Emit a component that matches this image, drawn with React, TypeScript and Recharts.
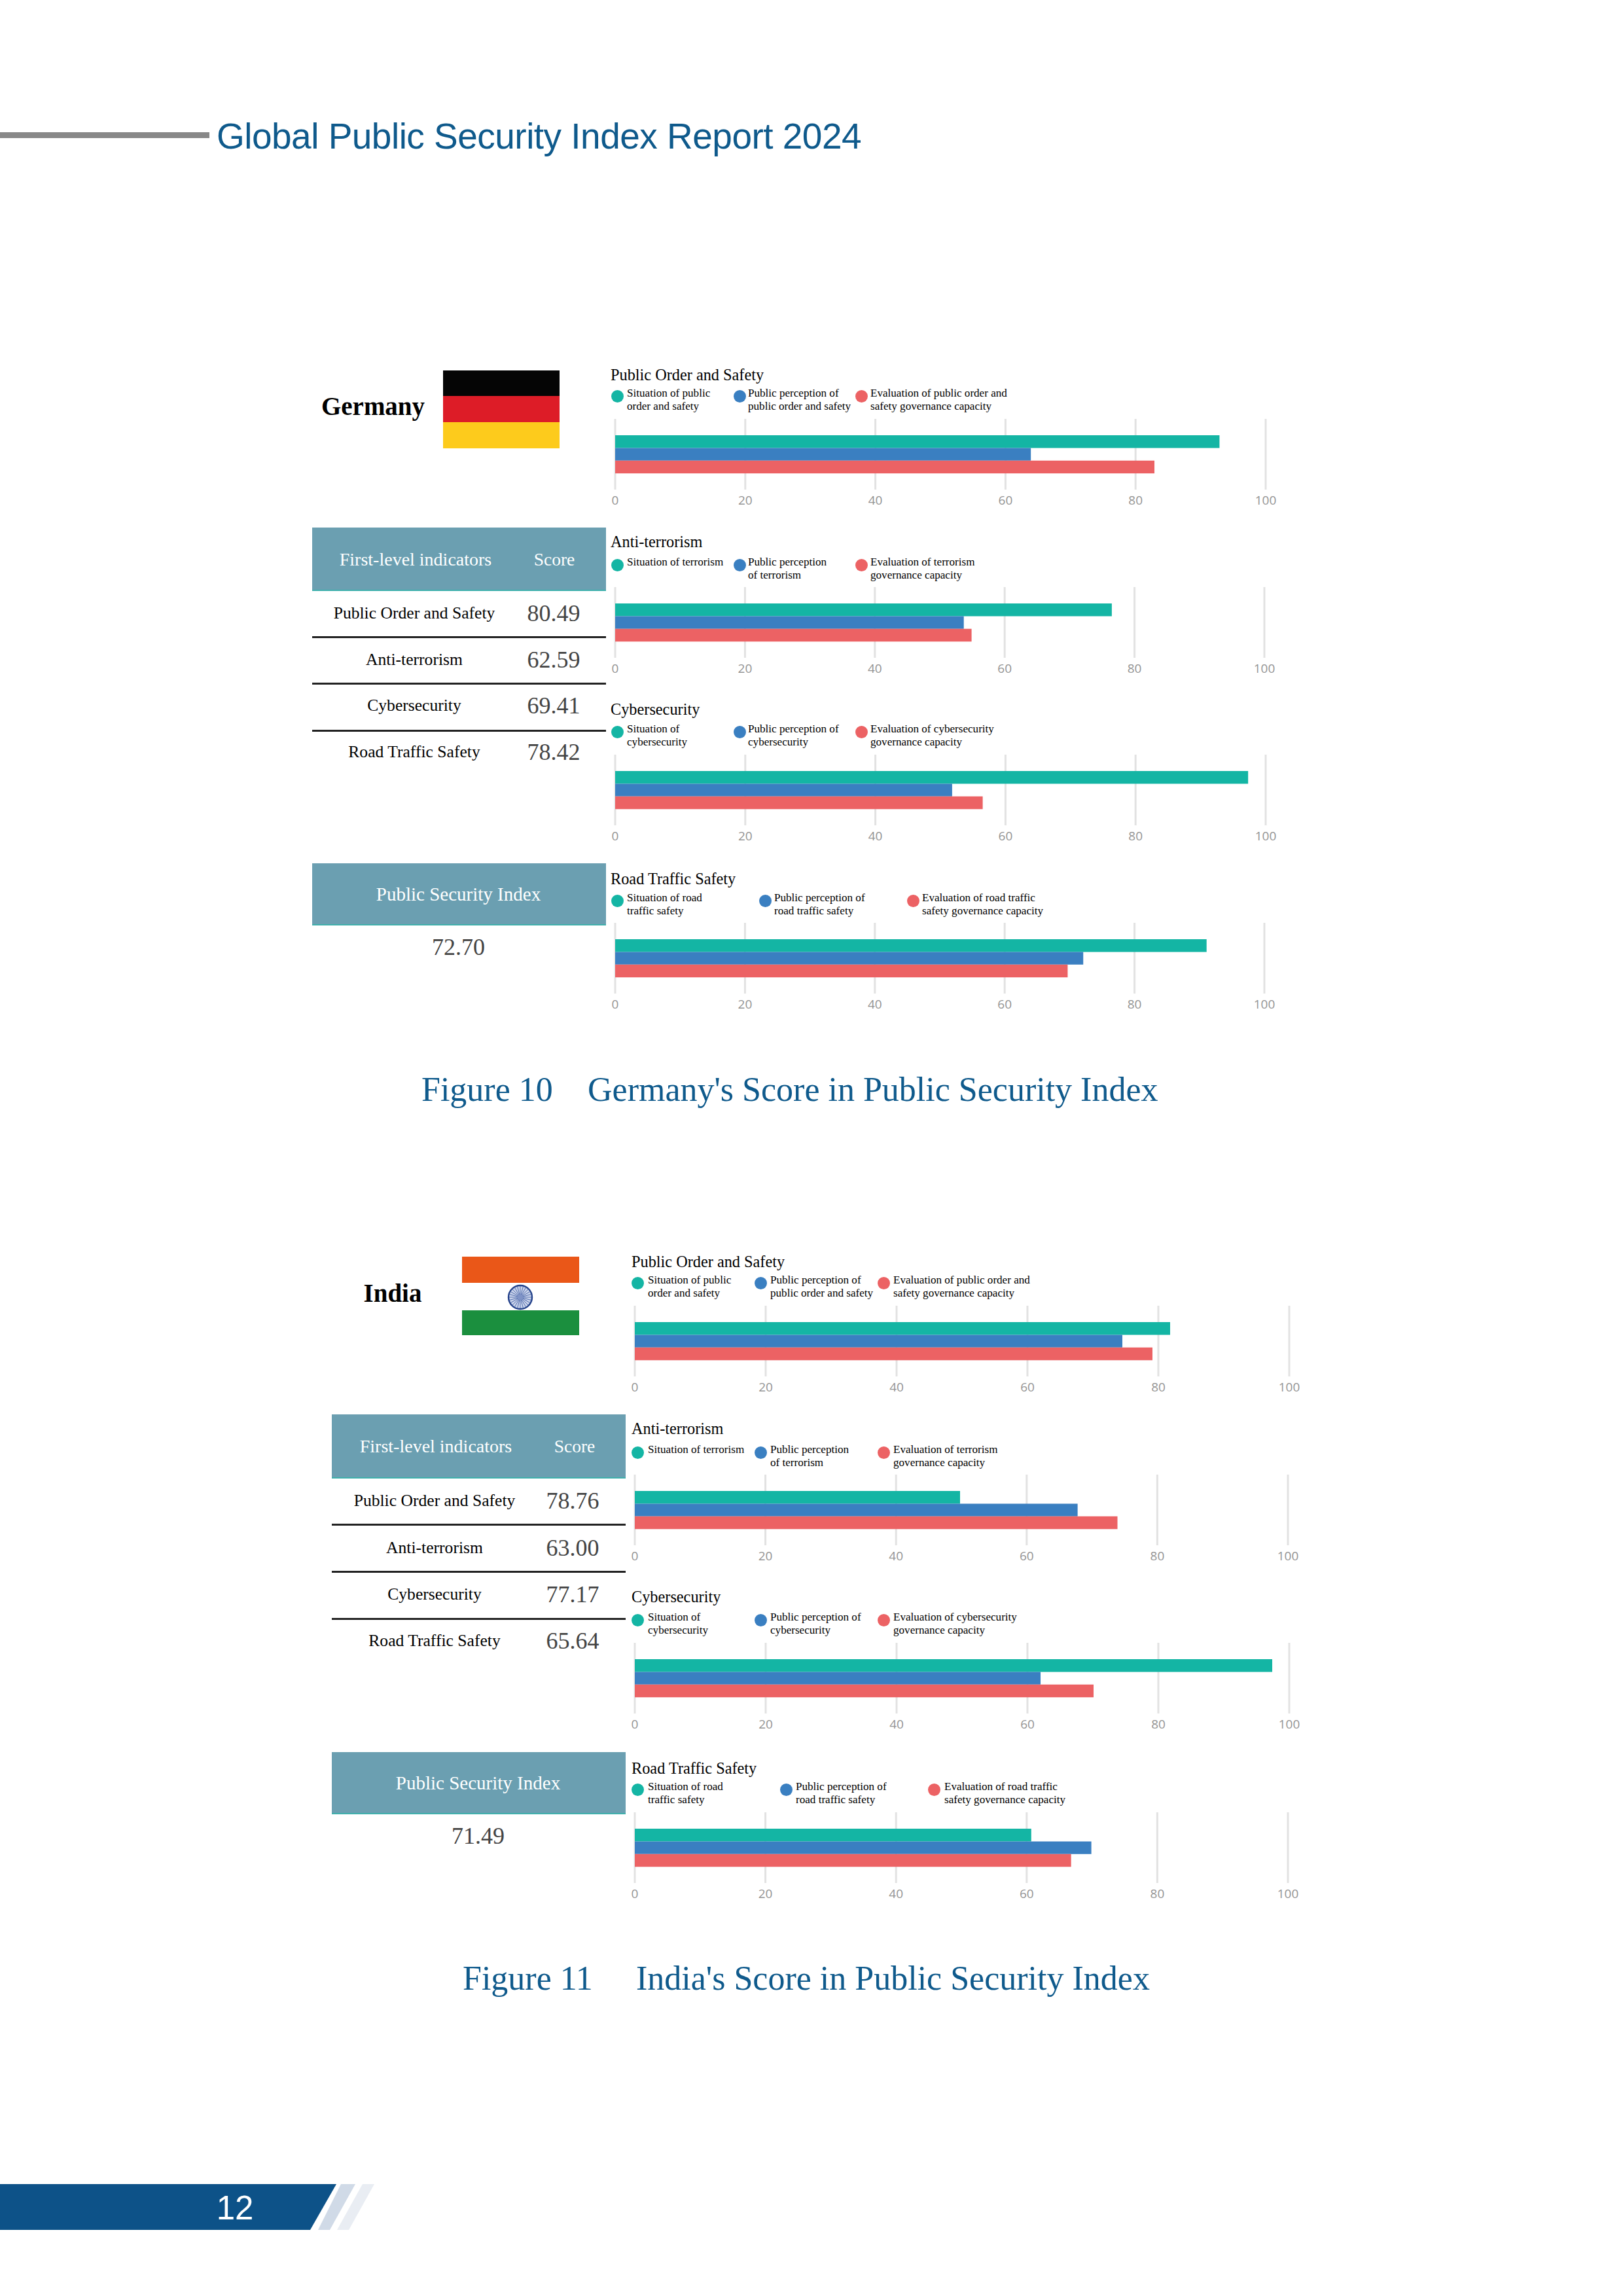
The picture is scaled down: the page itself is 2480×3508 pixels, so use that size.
import React from 'react';
import { BarChart, Bar, XAxis, YAxis, CartesianGrid } from 'recharts';

const xTicks = [0, 20, 40, 60, 80, 100];
const seriesKeys = ['situation', 'perception', 'evaluation'];
const seriesColors = ['#14b5a4', '#3a7fc1', '#ec6264'];

const panelTitles = ['Public Order and Safety', 'Anti-terrorism', 'Cybersecurity', 'Road Traffic Safety'];

const legendLabels = [
  [['Situation of public', 'order and safety'], ['Public perception of', 'public order and safety'], ['Evaluation of public order and', 'safety governance capacity']],
  [['Situation of terrorism'], ['Public perception', 'of terrorism'], ['Evaluation of terrorism', 'governance capacity']],
  [['Situation of', 'cybersecurity'], ['Public perception of', 'cybersecurity'], ['Evaluation of cybersecurity', 'governance capacity']],
  [['Situation of road', 'traffic safety'], ['Public perception of', 'road traffic safety'], ['Evaluation of road traffic', 'safety governance capacity']],
];

const germanyValues = [
  [92.9, 63.9, 82.9],
  [76.5, 53.7, 54.9],
  [97.3, 51.8, 56.5],
  [91.1, 72.1, 69.7],
];
const indiaValues = [
  [81.8, 74.5, 79.1],
  [49.8, 67.8, 73.9],
  [97.4, 62.0, 70.1],
  [60.7, 69.9, 66.8],
];

const germanyScores = ['80.49', '62.59', '69.41', '78.42'];
const indiaScores = ['78.76', '63.00', '77.17', '65.64'];

const BLUE = '#0f5a8c';
const SERIF = '"Liberation Serif", serif';
const SANS = '"Liberation Sans", sans-serif';

type TxtProps = { x: number; y: number; size: number; color?: string; anchor?: 'start' | 'middle'; font?: string; bold?: boolean; spacing?: number; children: React.ReactNode };

// y is the vertical middle of the line
const Txt = ({ x, y, size, color = '#000', anchor = 'middle', font = SERIF, bold, spacing, children }: TxtProps) => (
  <div
    style={{
      position: 'absolute', left: x, top: y, fontFamily: font, fontSize: size, color, lineHeight: 1,
      fontWeight: bold ? 700 : 400, whiteSpace: 'pre', letterSpacing: spacing,
      transform: anchor === 'middle' ? 'translate(-50%, -50%)' : 'translate(0, -50%)',
    }}
  >
    {children}
  </div>
);

const Box = ({ x, y, w, h, color }: { x: number; y: number; w: number; h: number; color: string }) => (
  <div style={{ position: 'absolute', left: x, top: y, width: w, height: h, background: color }} />
);

type PanelProps = { index: number; values: number[]; x0: number; gridTop: number; plotWidth: number; titleX: number; dotX: number[]; textX: number[]; titleDy: number; legendDy: number };

const Panel = ({ index, values, x0, gridTop, plotWidth, titleX, dotX, textX, titleDy, legendDy }: PanelProps) => {
  const row: Record<string, number | string> = { name: panelTitles[index] };
  seriesKeys.forEach((k, i) => { row[k] = values[i]; });
  return (
    <>
      <Txt x={titleX} y={gridTop - 67 + titleDy} size={24.3} anchor="start">{panelTitles[index]}</Txt>
      {legendLabels[index].map((lines, i) => (
        <React.Fragment key={i}>
          <div style={{ position: 'absolute', left: dotX[i] - 10.5, top: gridTop - 35 - 9.5 + legendDy, width: 19, height: 19, borderRadius: '50%', background: seriesColors[i] }} />
          {lines.map((line, j) => (
            <Txt key={j} x={textX[i]} y={gridTop - 39 + j * 20 + legendDy} size={17.1} anchor="start">{line}</Txt>
          ))}
        </React.Fragment>
      ))}
      <div style={{ position: 'absolute', left: x0 - 20, top: gridTop }}>
        <BarChart
          width={plotWidth + 60}
          height={150}
          data={[row]}
          layout="vertical"
          margin={{ top: 0, right: 40, bottom: 0, left: 20 }}
          barCategoryGap={25}
          barGap={0}
        >
          <CartesianGrid horizontal={false} stroke="#e2e2e2" strokeWidth={3} />
          <XAxis
            type="number"
            domain={[0, 100]}
            ticks={xTicks}
            interval={0}
            axisLine={false}
            tickLine={false}
            height={42}
            tickMargin={4}
            tick={{ fill: '#949494', fontSize: 19, fontFamily: '"Open Sans", sans-serif' }}
          />
          <YAxis type="category" dataKey="name" hide />
          {seriesKeys.map((k, i) => (
            <Bar key={k} dataKey={k} fill={seriesColors[i]} barSize={19.4} isAnimationActive={false} />
          ))}
        </BarChart>
      </div>
    </>
  );
};

type CountryProps = {
  tableX: number; labelX: number; scoreX: number; headerTop: number; rowY: number[]; lineY: number[]; boxTop: number; boxBottom: number;
  indexY: number; scores: string[]; indexScore: string; headerLabelX: number; headerScoreX: number; headerBottom: number;
};

const Table = ({ tableX, labelX, scoreX, headerTop, headerBottom, rowY, lineY, boxTop, boxBottom, indexY, scores, indexScore, headerLabelX, headerScoreX }: CountryProps) => {
  const w = 449;
  const head = '#6b9fb1';
  const mid = tableX + w / 2;
  return (
    <>
      <Box x={tableX} y={headerTop} w={w} h={headerBottom - headerTop} color={head} />
      <Box x={tableX} y={headerBottom - 2} w={w} h={2} color="#3fb0ac" />
      <Txt x={headerLabelX} y={(headerTop + headerBottom) / 2} size={28} color="#fff">First-level indicators</Txt>
      <Txt x={headerScoreX} y={(headerTop + headerBottom) / 2} size={27.5} color="#fff">Score</Txt>
      {panelTitles.map((t, i) => (
        <React.Fragment key={t}>
          <Txt x={labelX} y={rowY[i]} size={25.6}>{t}</Txt>
          <Txt x={scoreX - 1} y={rowY[i]} size={36} color="#444">{scores[i]}</Txt>
        </React.Fragment>
      ))}
      {lineY.map((y) => <Box key={y} x={tableX} y={y - 1} w={w} h={2.5} color="#222" />)}
      <Box x={tableX} y={boxTop} w={w} h={boxBottom - boxTop} color={head} />
      <Box x={tableX} y={boxBottom - 2} w={w} h={2} color="#3fb0ac" />
      <Txt x={mid - 1} y={(boxTop + boxBottom) / 2 - 1} size={29} color="#fff">Public Security Index</Txt>
      <Txt x={mid - 1} y={indexY} size={36} color="#444">{indexScore}</Txt>
    </>
  );
};

const chakraSpokes = Array.from({ length: 24 }, (_, i) => i * 15);

const IndiaWheel = ({ cx, cy }: { cx: number; cy: number }) => (
  <svg style={{ position: 'absolute', left: cx - 20, top: cy - 20 }} width={40} height={40} viewBox="-20 -20 40 40">
    <circle r={18} fill="#c9d3ea" stroke="#24428a" strokeWidth={2.4} />
    {chakraSpokes.map((a) => (
      <line key={a} x1={0} y1={0} x2={0} y2={-17} stroke="#3e5ba3" strokeWidth={0.8} transform={`rotate(${a})`} />
    ))}
    <circle r={4} fill="#7f93c6" />
  </svg>
);

const germanyLayout = [
  { gridTop: 640, plotWidth: 994, titleDy: 0, legendDy: 0, dotX: [944, 1131, 1317], textX: [958, 1143, 1330] },
  { gridTop: 897, plotWidth: 992, titleDy: -2, legendDy: 1, dotX: [944, 1131, 1317], textX: [958, 1143, 1330] },
  { gridTop: 1153, plotWidth: 994, titleDy: -2, legendDy: 0, dotX: [944, 1131, 1317], textX: [958, 1143, 1330] },
  { gridTop: 1410, plotWidth: 992, titleDy: 0, legendDy: 1, dotX: [944, 1170, 1396], textX: [958, 1183, 1409] },
];
const indiaLayout = [
  { gridTop: 1995, plotWidth: 1000, titleDy: 0, legendDy: 0, dotX: [975, 1163, 1351], textX: [990, 1177, 1365] },
  { gridTop: 2253, plotWidth: 998, titleDy: -3, legendDy: 1, dotX: [975, 1163, 1351], textX: [990, 1177, 1365] },
  { gridTop: 2510, plotWidth: 1000, titleDy: -3, legendDy: 0, dotX: [975, 1163, 1351], textX: [990, 1177, 1365] },
  { gridTop: 2769, plotWidth: 998, titleDy: 0, legendDy: 0, dotX: [975, 1202, 1428], textX: [990, 1216, 1443] },
];

const App: React.FC = () => (
  <div style={{ position: 'absolute', left: 0, top: 0, width: 2480, height: 3508, background: '#fff', overflow: 'hidden' }}>
    <Box x={0} y={202} w={320} h={9} color="#888" />
    <Txt x={331} y={208} size={55} spacing={-0.52} color={BLUE} font={SANS} anchor="start">Global Public Security Index Report 2024</Txt>

    <Txt x={570} y={620} size={39} bold>Germany</Txt>
    <Box x={677} y={566} w={178} h={40} color="#050505" />
    <Box x={677} y={605} w={178} h={40} color="#dd1c27" />
    <Box x={677} y={645} w={178} h={40} color="#fdcb1c" />
    <Table
      tableX={477} labelX={633} scoreX={847} headerLabelX={635} headerScoreX={847}
      headerTop={806} headerBottom={903} rowY={[937, 1008, 1078, 1149]} lineY={[973, 1044, 1116]}
      boxTop={1319} boxBottom={1414} indexY={1447} scores={germanyScores} indexScore="72.70"
    />
    {germanyLayout.map((p, i) => (
      <Panel key={i} index={i} values={germanyValues[i]} x0={940} titleX={933} {...p} />
    ))}
    <Txt x={644} y={1665} size={52} color={BLUE} anchor="start">Figure 10</Txt>
    <Txt x={898} y={1665} size={52} color={BLUE} anchor="start">Germany's Score in Public Security Index</Txt>

    <Txt x={600} y={1975} size={39} bold>India</Txt>
    <Box x={706} y={1920} w={179} h={40} color="#ea5718" />
    <Box x={706} y={2002} w={179} h={38} color="#1b8f3e" />
    <IndiaWheel cx={795} cy={1982} />
    <Table
      tableX={507} labelX={664} scoreX={876} headerLabelX={666} headerScoreX={878}
      headerTop={2161} headerBottom={2259} rowY={[2293, 2365, 2436, 2507]} lineY={[2329, 2401, 2473]}
      boxTop={2677} boxBottom={2772} indexY={2805} scores={indiaScores} indexScore="71.49"
    />
    {indiaLayout.map((p, i) => (
      <Panel key={i} index={i} values={indiaValues[i]} x0={970} titleX={965} {...p} />
    ))}
    <Txt x={707} y={3023} size={52} color={BLUE} anchor="start">Figure 11</Txt>
    <Txt x={972} y={3023} size={52} color={BLUE} anchor="start">India's Score in Public Security Index</Txt>

    <svg style={{ position: 'absolute', left: 0, top: 3337 }} width={600} height={70}>
      <polygon points="0,0 514,0 474,70 0,70" fill="#0d5288" />
      <polygon points="521,0 543,0 504,70 486,70" fill="#d0dae7" />
      <polygon points="554,0 572,0 533,70 515,70" fill="#e9edf3" />
    </svg>
    <Txt x={359} y={3373} size={51} color="#fff" font={SANS}>12</Txt>
  </div>
);

export default App;
